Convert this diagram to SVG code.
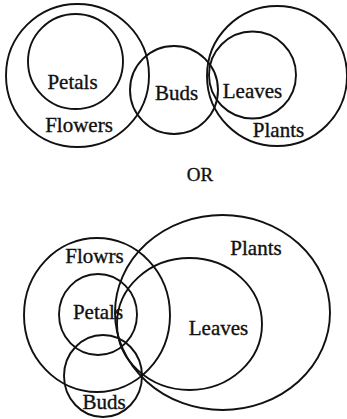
<svg xmlns="http://www.w3.org/2000/svg" width="347" height="419" viewBox="0 0 347 419">
<style>
.c{fill:none;stroke:#111;stroke-width:1.9}
.t{font-family:"Liberation Serif","Times New Roman",serif;font-size:21px;fill:#111;stroke:#111;stroke-width:0.35;text-anchor:middle}
</style>
<rect width="347" height="419" fill="#fff"/>
<g id="top">
<g id="flowers1"><circle class="c" cx="77.5" cy="75.5" r="71.5"/><text class="t" x="79" y="132">Flowers</text></g>
<g id="petals1"><circle class="c" cx="75.5" cy="61.5" r="47.5"/><text class="t" x="72.5" y="89">Petals</text></g>
<g id="buds1"><circle class="c" cx="174" cy="90" r="44"/><text class="t" x="176.5" y="100">Buds</text></g>
<g id="plants1"><circle class="c" cx="277" cy="76" r="70"/><text class="t" x="278.5" y="137">Plants</text></g>
<g id="leaves1"><circle class="c" cx="252.5" cy="75" r="43.5"/><text class="t" x="252.5" y="98">Leaves</text></g>
</g>
<text class="t" x="200" y="181" style="font-size:19px">OR</text>
<g id="bottom">
<g id="flowrs2"><ellipse class="c" cx="97" cy="315" rx="73" ry="77"/><text class="t" x="94.5" y="263">Flowrs</text></g>
<g id="petals2"><ellipse class="c" cx="98" cy="314.5" rx="39" ry="40.5"/><text class="t" x="98" y="319">Petals</text></g>
<g id="buds2"><ellipse class="c" cx="103" cy="376" rx="39" ry="41"/><text class="t" x="104" y="409">Buds</text></g>
<g id="plants2"><ellipse class="c" cx="222.5" cy="312.5" rx="107.5" ry="97.5"/><text class="t" x="256" y="255">Plants</text></g>
<g id="leaves2"><ellipse class="c" cx="189.5" cy="324" rx="72.5" ry="66"/><text class="t" x="218.5" y="335">Leaves</text></g>
</g>
<g id="connectors"/>
</svg>
